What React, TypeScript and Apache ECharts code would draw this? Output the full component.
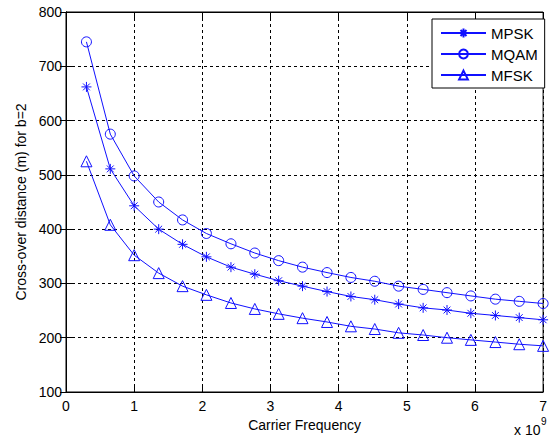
import React, { useEffect, useRef } from "react";
import * as echarts from "echarts";

const carrierFreq = [0.3, 0.65, 1.0, 1.36, 1.71, 2.06, 2.42, 2.77, 3.12, 3.47, 3.83, 4.18, 4.53, 4.88, 5.24, 5.59, 5.94, 6.3, 6.65, 7.0];
const mpsk = [662, 511, 443, 400, 372, 349, 330, 317, 305, 295, 285, 276, 270, 262, 255, 251, 245, 241, 237, 233];
const mqam = [745, 575, 498, 450, 417, 392, 373, 356, 342, 330, 320, 311, 304, 295, 289, 283, 277, 271, 267, 263];
const mfsk = [525, 408, 352, 319, 295, 279, 264, 253, 244, 236, 229, 221, 216, 209, 205, 200, 196, 192, 188, 185];
const seriesNames = ["MPSK", "MQAM", "MFSK"];

const FONT = "'Liberation Sans', Arial, Helvetica, sans-serif";
const BLUE = "#1010ff";
const ASTERISK = "path://M5,0L5,10M0,5L10,5M1.6,1.6L8.4,8.4M1.6,8.4L8.4,1.6";

export default function App() {
  const ref = useRef<HTMLDivElement>(null);
  useEffect(() => {
    if (!ref.current) return;
    const chart = echarts.init(ref.current, undefined, { renderer: "svg" });
    const pairs = (ys: number[]) => carrierFreq.map((x, i) => [x, ys[i]]);
    const mk = (name: string, ys: number[], symbol: string, size: number) => ({
      name,
      type: "line",
      data: pairs(ys),
      symbol,
      symbolSize: size,
      showSymbol: true,
      lineStyle: { color: BLUE, width: 1 },
      itemStyle: { color: "rgba(0,0,0,0)", borderColor: BLUE, borderWidth: 1 },
      emphasis: { disabled: true },
      xAxisIndex: 0,
      yAxisIndex: 0,
    });
    const axisText = { color: "#000", fontSize: 14, fontFamily: FONT };
    const tick = { show: true, inside: true, length: 6, lineStyle: { color: "#000" } };
    chart.setOption({
      animation: false,
      grid: { left: 66, right: 2, top: 12, bottom: 49, show: true, borderColor: "#000", borderWidth: 1, backgroundColor: "#fff" },
      legend: {
        data: seriesNames,
        orient: "vertical",
        left: 432,
        top: 19,
        padding: [6, 7, 5, 8],
        itemGap: 5,
        itemWidth: 45,
        itemHeight: 11,
        backgroundColor: "#fff",
        borderColor: "#000",
        borderWidth: 1,
        borderRadius: 0,
        textStyle: { ...axisText, fontSize: 15, lineHeight: 16 },
      },
      xAxis: [
        {
          type: "value",
          min: 0,
          max: 7,
          interval: 1,
          name: "Carrier Frequency",
          nameLocation: "middle",
          nameGap: 26,
          nameTextStyle: axisText,
          axisLine: { show: true, lineStyle: { color: "#000" } },
          axisTick: tick,
          axisLabel: { ...axisText, margin: 7 },
          splitLine: { show: true, lineStyle: { color: "#000", type: [3, 3], width: 1 } },
        },
        {
          type: "value",
          position: "top",
          min: 0,
          max: 7,
          interval: 1,
          axisLine: { show: true, lineStyle: { color: "#000" } },
          axisTick: tick,
          axisLabel: { show: false },
          splitLine: { show: false },
        },
      ],
      yAxis: [
        {
          type: "value",
          min: 100,
          max: 800,
          interval: 100,
          name: "Cross-over distance (m) for b=2",
          nameLocation: "middle",
          nameGap: 38,
          nameTextStyle: axisText,
          axisLine: { show: true, lineStyle: { color: "#000" } },
          axisTick: tick,
          axisLabel: { ...axisText, margin: 4 },
          splitLine: { show: true, lineStyle: { color: "#000", type: [3, 3], width: 1 } },
        },
        {
          type: "value",
          position: "right",
          min: 100,
          max: 800,
          interval: 100,
          axisLine: { show: true, lineStyle: { color: "#000" } },
          axisTick: tick,
          axisLabel: { show: false },
          splitLine: { show: false },
        },
      ],
      graphic: [
        { type: "text", left: 514, top: 423, style: { text: "x 10", fill: "#000", font: `14px ${FONT}` } },
        { type: "text", left: 541, top: 416, style: { text: "9", fill: "#000", font: `10px ${FONT}` } },
      ],
      series: [
        mk(seriesNames[0], mpsk, ASTERISK, 10),
        mk(seriesNames[1], mqam, "circle", 10),
        mk(seriesNames[2], mfsk, "triangle", 11),
      ],
    });
    return () => chart.dispose();
  }, []);
  return <div ref={ref} style={{ position: "fixed", left: 0, top: 0, width: 550, height: 441, background: "#fff" }} />;
}
